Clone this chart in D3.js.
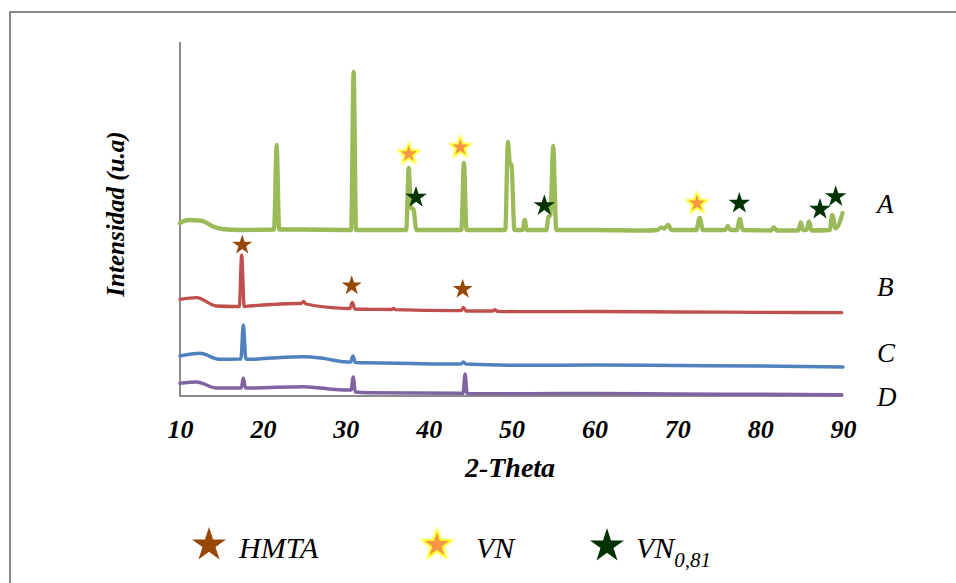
<!DOCTYPE html>
<html>
<head>
<meta charset="utf-8">
<script src="https://cdn.jsdelivr.net/npm/d3@7"></script>
<style>
  html, body { margin: 0; padding: 0; background: #fff; }
  svg { display: block; }
  text { font-family: "Liberation Serif", "Times New Roman", serif; }
</style>
</head>
<body>
<svg id="chart" width="956" height="583"></svg>
<script>
// X-ray diffraction patterns, intensity in arbitrary units (offset per sample)
const xTicks = [10, 20, 30, 40, 50, 60, 70, 80, 90];
const sampleLabels = ["A", "B", "C", "D"];

// [2θ, intensity]
const patternA = [
  [10, 174], [11.0, 177], [12.4, 176.5], [13.0, 175], [14.0, 170.5], [15.1, 168], [17.2, 167],
  [21.35, 167.5], [21.66, 252], [21.97, 167.5],
  [25, 167.5], [30.65, 167], [30.95, 325], [31.25, 167],
  [34, 167], [37.3, 167], [37.6, 229], [37.85, 190], [38.2, 187], [38.5, 167],
  [41, 167], [43.95, 167], [44.26, 234], [44.57, 167],
  [47, 167], [49.25, 167], [49.57, 255], [49.8, 234], [50.0, 232], [50.35, 167],
  [51.35, 167], [51.6, 177], [51.85, 167],
  [54.2, 167], [54.45, 180], [54.7, 182], [55.03, 251], [55.4, 167],
  [60, 167], [66, 166.5], [67.6, 167], [68.1, 169.5], [68.4, 168.5], [68.9, 172], [69.3, 167],
  [72.3, 167], [72.7, 179], [73.1, 167],
  [75.8, 167], [76.1, 171], [76.4, 167],
  [77.2, 167], [77.55, 178], [77.9, 167],
  [81.3, 166.5], [81.65, 169.5], [82.0, 166.5],
  [84.6, 166.5], [84.9, 174.5], [85.2, 167],
  [85.6, 167], [85.9, 175.5], [86.2, 166.5],
  [88.4, 167], [88.7, 182], [89.12, 168.7], [89.95, 184]
];

const patternB = [
  [10, 97.7], [12.0, 99.3], [14.4, 91], [16.5, 90.5],
  [17.15, 90.5], [17.44, 142], [17.75, 90.5],
  [18.45, 91], [21, 92.5], [24.0, 93.5], [24.6, 93.5], [24.9, 95.5], [25.2, 93],
  [29.7, 88.7], [30.5, 88.5], [30.8, 94.5], [31.1, 88],
  [32.9, 87.7], [35.5, 87.5], [35.75, 88.7], [36.0, 87.3],
  [43.0, 86.3], [43.9, 86.3], [44.2, 89.7], [44.5, 86],
  [47.7, 86], [48.0, 87.3], [48.3, 85.7],
  [52.2, 85.3], [60, 85.5], [70, 85], [80, 84.7], [89.85, 84.3]
];

const patternC = [
  [10, 41], [12.4, 43.7], [14.8, 37.7], [17.2, 38],
  [17.35, 38], [17.64, 72], [17.95, 38],
  [18.45, 37.7], [21, 39], [24.9, 40.3], [27, 39], [29.7, 35.3],
  [30.6, 35], [30.87, 41], [31.15, 34.5],
  [32.1, 34.3], [38, 33.5], [43.9, 33], [44.2, 35], [44.5, 33],
  [52.2, 31.7], [60, 32], [70, 31.5], [80, 31], [90, 30]
];

const patternD = [
  [10, 13.7], [12.0, 15], [14.4, 9], [17.3, 9],
  [17.4, 9], [17.64, 19], [17.9, 9],
  [18.45, 9], [24.9, 10.3], [29.7, 7],
  [30.65, 7], [30.9, 20], [31.15, 5],
  [32.9, 4.3], [43.8, 3.7], [44.15, 3.7], [44.4, 23], [44.65, 3.5],
  [52.2, 3.3], [60, 3.5], [70, 3], [80, 2.7], [89.85, 2.3]
];

// Phase markers [2θ, intensity]
const hmtaMarks = [[17.51, 152], [30.72, 111.3], [44.11, 107.7]];
const vnMarks = [[37.6, 243], [43.82, 249.7], [72.38, 193.7]];
const vn081Marks = [[38.48, 199.7], [53.96, 191.3], [77.49, 193.7], [87.22, 187.7], [89.12, 200.3]];

const labelLevels = [184, 101, 35, -9];

const svg = d3.select("#chart");

const x = d3.scaleLinear().domain([10, 90]).range([180, 843]);
const y = d3.scaleLinear().domain([0, 355]).range([397, 42]);

// Defs: soft glow for VN markers
const defs = svg.append("defs");
const glow = defs.append("filter").attr("id", "glow")
  .attr("x", "-50%").attr("y", "-50%").attr("width", "200%").attr("height", "200%");
glow.append("feGaussianBlur").attr("stdDeviation", 1);

// Outer frame
svg.append("rect")
  .attr("x", 10).attr("y", 12).attr("width", 980).attr("height", 620)
  .attr("fill", "none").attr("stroke", "#898989").attr("stroke-width", 2);

// Axes lines (no ticks)
svg.append("line")
  .attr("x1", x(10)).attr("x2", x(10)).attr("y1", 42).attr("y2", y(0))
  .attr("stroke", "#8c8c8c").attr("stroke-width", 2);
svg.append("line")
  .attr("x1", x(10)).attr("x2", x(90)).attr("y1", y(0) - 1).attr("y2", y(0) - 1)
  .attr("stroke", "#8c8c8c").attr("stroke-width", 2);

// X tick labels through the axis generator
const xAxis = d3.axisBottom(x).tickValues(xTicks).tickSize(0).tickPadding(0).tickFormat(d3.format("d"));
const gx = svg.append("g").attr("transform", "translate(0,419)").call(xAxis);
gx.select(".domain").remove();
gx.selectAll("text")
  .attr("dy", 0).attr("y", 19)
  .style("font-family", "'Liberation Serif', serif")
  .style("font-size", "26px").style("font-weight", "bold").style("font-style", "italic")
  .attr("fill", "#000");

// Axis titles
svg.append("text")
  .attr("x", 510).attr("y", 477)
  .attr("text-anchor", "middle")
  .style("font-size", "28px").style("font-weight", "bold").style("font-style", "italic")
  .text("2-Theta");

svg.append("text")
  .attr("transform", "translate(124,214) rotate(-90)")
  .attr("text-anchor", "middle")
  .style("font-size", "25px").style("font-weight", "bold").style("font-style", "italic")
  .text("Intensidad (u.a)");

// Patterns
const line = d3.line().x(d => x(d[0])).y(d => y(d[1])).curve(d3.curveMonotoneX);
const series = [
  { data: patternA, color: "#9BBB59", width: 4.3 },
  { data: patternB, color: "#C0504D", width: 3.3 },
  { data: patternC, color: "#4F81BD", width: 3.5 },
  { data: patternD, color: "#8064A2", width: 3.5 }
];
series.forEach(s => {
  svg.append("path")
    .attr("d", line(s.data))
    .attr("fill", "none")
    .attr("stroke", s.color)
    .attr("stroke-width", s.width)
    .attr("stroke-linejoin", "round")
    .attr("stroke-linecap", "round");
});

// Sample labels
svg.selectAll("text.sample")
  .data(sampleLabels)
  .join("text")
  .attr("class", "sample")
  .attr("x", 877)
  .attr("y", (d, i) => y(labelLevels[i]))
  .style("font-size", "27px").style("font-style", "italic")
  .text(d => d);

// Star markers
const star = size => d3.symbol().type(d3.symbolStar).size(size)();

function drawVN(g, size) {
  g.append("path").attr("d", star(size * 1.25)).attr("fill", "#FFFF00")
    .attr("stroke", "#FFFF00").attr("stroke-width", 1.5).attr("filter", "url(#glow)");
  g.append("path").attr("d", star(size * 0.78)).attr("fill", "#F79646");
}

svg.selectAll("path.hmta")
  .data(hmtaMarks).join("path").attr("class", "hmta")
  .attr("transform", d => `translate(${x(d[0])},${y(d[1])})`)
  .attr("d", star(125)).attr("fill", "#974706");

vnMarks.forEach(d => {
  const g = svg.append("g").attr("transform", `translate(${x(d[0])},${y(d[1])})`);
  drawVN(g, 110);
});

svg.selectAll("path.vn081")
  .data(vn081Marks).join("path").attr("class", "vn081")
  .attr("transform", d => `translate(${x(d[0])},${y(d[1])})`)
  .attr("d", star(145)).attr("fill", "#003300");

// Legend
const legend = svg.append("g");
legend.append("path").attr("transform", "translate(209,545)").attr("d", star(360)).attr("fill", "#974706");
legend.append("text").attr("x", 239).attr("y", 558)
  .style("font-size", "30px").style("font-style", "italic").text("HMTA");

drawVN(legend.append("g").attr("transform", "translate(437,545)"), 230);
legend.append("text").attr("x", 476).attr("y", 558)
  .style("font-size", "30px").style("font-style", "italic").text("VN");

legend.append("path").attr("transform", "translate(607,546)").attr("d", star(360)).attr("fill", "#003300");
const vnt = legend.append("text").attr("x", 636).attr("y", 558)
  .style("font-size", "30px").style("font-style", "italic");
vnt.append("tspan").text("VN");
vnt.append("tspan").attr("dy", 9).style("font-size", "21px").text("0,81");
</script>
</body>
</html>
